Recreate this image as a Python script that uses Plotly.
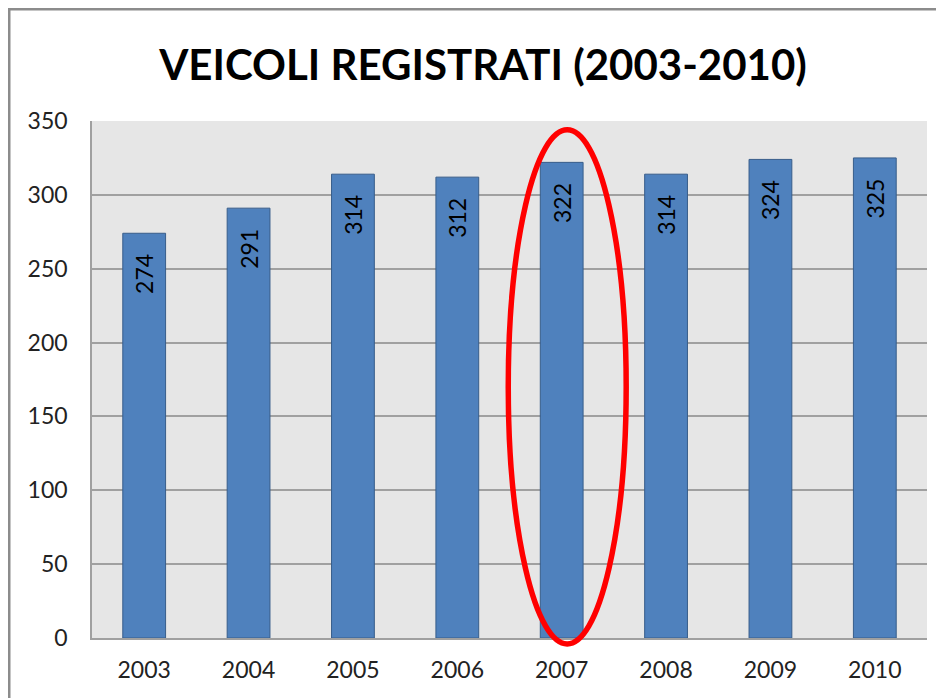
import plotly.graph_objects as go

years = ["2003", "2004", "2005", "2006", "2007", "2008", "2009", "2010"]
vehicles = [274, 291, 314, 312, 322, 314, 324, 325]
y_ticks = [0, 50, 100, 150, 200, 250, 300, 350]
title_text = "VEICOLI REGISTRATI (2003-2010)"
highlight_year = "2007"

# page has an 8px body margin; figure sized to fit the window
W, H = 936, 690
ml, mr, mt, mb = 84, 17, 113, 60
pw = W - ml - mr
ph = H - mt - mb
ymax = 350

fig = go.Figure(go.Bar(
    x=years, y=vehicles,
    marker=dict(color="#4F81BD", line=dict(color="#385D8A", width=1)),
    text=[str(v) + "\u00a0\u00a0\u00a0" for v in vehicles],
    textposition="inside", insidetextanchor="end", textangle=-90,
    textfont=dict(family="Lato", size=23, color="#000000"),
    cliponaxis=False,
))

# red ellipse around highlighted category
idx = years.index(highlight_year)
n = len(years)
cx = (idx + 0.5 + 0.053) / n
half_w = 0.565 / n
shapes = [
    dict(type="circle", xref="paper", yref="paper",
         x0=cx - half_w, x1=cx + half_w,
         y0=-4 / ymax, y1=344 / ymax,
         line=dict(color="#FF0000", width=5.5), layer="above"),
    # outer frame
    dict(type="rect", xref="paper", yref="paper",
         x0=(1 - ml) / pw, x1=(W + 20 - ml) / pw,
         y0=(mt + ph - (H + 20)) / ph, y1=(mt + ph - 1) / ph,
         line=dict(color="#8C8C8C", width=3), fillcolor="rgba(0,0,0,0)", layer="above"),
]

fig.update_layout(
    width=W, height=H,
    margin=dict(l=ml, r=mr, t=mt, b=mb),
    paper_bgcolor="#FFFFFF",
    plot_bgcolor="#E6E6E6",
    bargap=0.59,
    showlegend=False,
    shapes=shapes,
    title=dict(text="<b>" + title_text + "</b>",
               font=dict(family="Lato", size=42, color="#000000"),
               x=(475 - ml) / pw, xref="paper", xanchor="center",
               y=1 - 57 / H, yref="container", yanchor="middle"),
    xaxis=dict(
        type="category", showgrid=False,
        showline=True, linecolor="#A0A0A0", linewidth=1.5,
        ticks="", tickfont=dict(family="Lato", size=23, color="#222222"),
        ticklabelstandoff=11,
    ),
    yaxis=dict(
        range=[0, ymax], tickvals=y_ticks,
        showgrid=True, gridcolor="#A0A0A0", gridwidth=1.5,
        showline=True, linecolor="#A0A0A0", linewidth=1.5,
        zeroline=False,
        ticks="", tickfont=dict(family="Lato", size=23, color="#222222"),
        ticklabelstandoff=18,
    ),
)

fig.write_html("out.html")
